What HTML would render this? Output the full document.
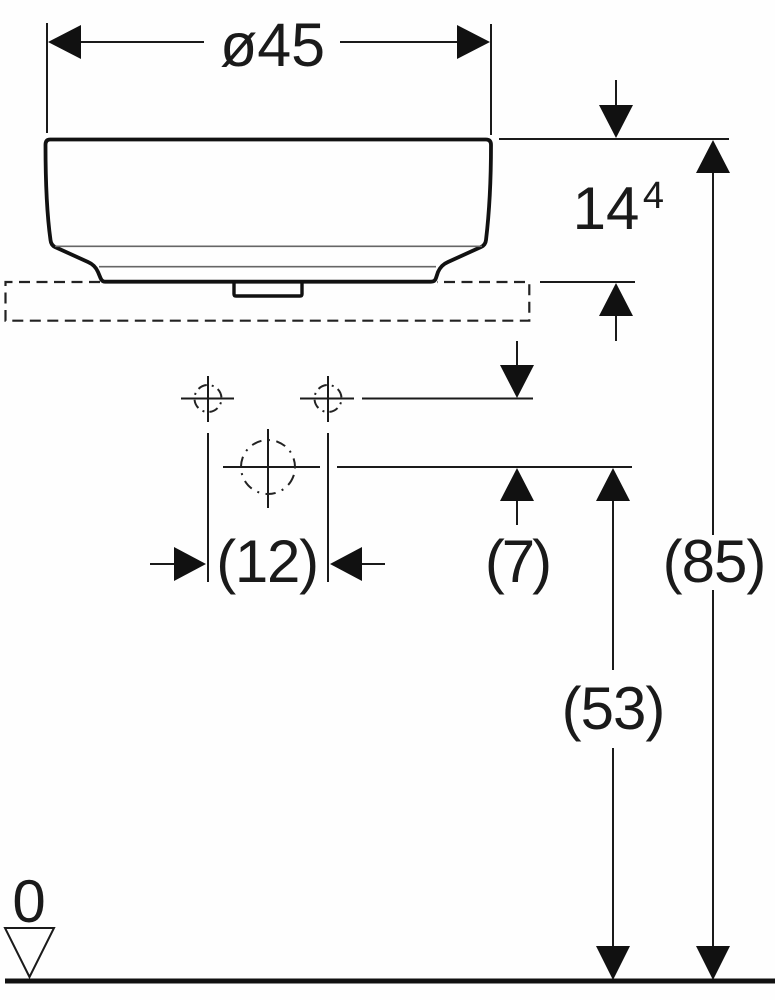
<!DOCTYPE html>
<html>
<head>
<meta charset="utf-8">
<style>
html,body{margin:0;padding:0;background:#fefefe;}
svg{display:block;}
text{font-family:"Liberation Sans",sans-serif;font-size:60px;fill:#1a1a1a;text-anchor:middle;}
</style>
</head>
<body>
<svg width="775" height="1000" viewBox="0 0 775 1000" xmlns="http://www.w3.org/2000/svg">
<rect width="775" height="1000" fill="#fefefe"/>

<!-- basin -->
<path d="M50 139.500 H486 Q491 139.500 491 145 C491 180 489 215 486 240 Q485.500 245 481 247 L448 262 Q441 265 438 272 L436 278 Q435 281.700 431 281.700 H105 Q102 281.700 100.500 278 L98 272 Q95 265 88 262 L55 247 Q51 245 50.500 240 C47 215 45.500 180 45.500 145 Q45.500 139.500 50 139.500 Z" fill="none" stroke="#111" stroke-width="3.800" stroke-linejoin="round"/>
<path d="M234 282 V294 Q234 296 236 296 H300 Q302 296 302 294 V282" fill="none" stroke="#111" stroke-width="3.400"/>
<g stroke="#666" stroke-width="1.600" fill="none">
<line x1="55" y1="246.300" x2="482" y2="246.300"/>
<line x1="99" y1="266.700" x2="436" y2="266.700"/>
</g>

<!-- dashed outline -->
<path d="M100 282 H5.500 V320.700 H529.300 V282 H437" fill="none" stroke="#222" stroke-width="2.200" stroke-dasharray="11 6.500"/>

<!-- thin lines -->
<g stroke="#1a1a1a" stroke-width="2" fill="none">
<line x1="47" y1="23" x2="47" y2="133"/>
<line x1="491" y1="24" x2="491" y2="135"/>
<line x1="80" y1="42" x2="204" y2="42"/>
<line x1="340" y1="42" x2="458" y2="42"/>
<line x1="499" y1="139" x2="729" y2="139"/>
<line x1="616" y1="80" x2="616" y2="106"/>
<line x1="713" y1="172" x2="713" y2="535"/>
<line x1="713" y1="590" x2="713" y2="947"/>
<line x1="540" y1="282" x2="635" y2="282"/>
<line x1="616" y1="315" x2="616" y2="341"/>
<line x1="517" y1="341" x2="517" y2="367"/>
<line x1="362" y1="398.500" x2="533" y2="398.500"/>
<line x1="337" y1="467" x2="632" y2="467"/>
<line x1="517" y1="500" x2="517" y2="525"/>
<line x1="613" y1="500" x2="613" y2="670"/>
<line x1="613" y1="748" x2="613" y2="947"/>
<line x1="208" y1="376" x2="208" y2="422"/>
<line x1="181" y1="398.500" x2="234" y2="398.500"/>
<line x1="328" y1="376" x2="328" y2="422"/>
<line x1="300" y1="398.500" x2="354" y2="398.500"/>
<line x1="208" y1="433" x2="208" y2="582"/>
<line x1="328" y1="433" x2="328" y2="582"/>
<line x1="268" y1="429" x2="268" y2="508"/>
<line x1="223" y1="467" x2="320" y2="467"/>
<line x1="150" y1="564" x2="175" y2="564"/>
<line x1="361" y1="564" x2="385" y2="564"/>
</g>

<!-- dashed circles -->
<g fill="none" stroke="#222" stroke-width="2">
<circle cx="208" cy="398.500" r="13.500" stroke-dasharray="9.200 5 2 5" transform="rotate(45 208 398.500)"/>
<circle cx="328" cy="398.500" r="13.500" stroke-dasharray="9.200 5 2 5" transform="rotate(45 328 398.500)"/>
<circle cx="268" cy="467" r="27" stroke-dasharray="10.200 6.500 2 6.500" transform="rotate(20 268 467)"/>
</g>

<!-- arrowheads -->
<g fill="#111">
<polygon points="48,42 81,25 81,59"/>
<polygon points="490,42 457,25 457,59"/>
<polygon points="616,138 599,105 633,105"/>
<polygon points="713,140 696,173 730,173"/>
<polygon points="713,980 696,946 730,946"/>
<polygon points="616,283 599,316 633,316"/>
<polygon points="517,398 500,365 534,365"/>
<polygon points="517,468 500,501 534,501"/>
<polygon points="613,468 596,501 630,501"/>
<polygon points="613,980 596,946 630,946"/>
<polygon points="206,564 174,547 174,581"/>
<polygon points="330,564 362,547 362,581"/>
</g>

<!-- datum -->
<polygon points="5,928 54,928 29.500,977" fill="none" stroke="#1a1a1a" stroke-width="2"/>
<rect x="5" y="978.500" width="770" height="5" fill="#111"/>

<!-- labels -->
<text x="272.500" y="66" style="font-size:61px">ø45</text>
<text x="606" y="229">14</text>
<text x="653.500" y="208" style="font-size:38px">4</text>
<text x="267" y="582" style="letter-spacing:-1.300px">(12)</text>
<text x="517" y="582" style="letter-spacing:-3px">(7)</text>
<text x="613" y="729" style="letter-spacing:-1px">(53)</text>
<text x="714" y="582" style="letter-spacing:-1px">(85)</text>
<text x="29" y="922">0</text>
</svg>
</body>
</html>
